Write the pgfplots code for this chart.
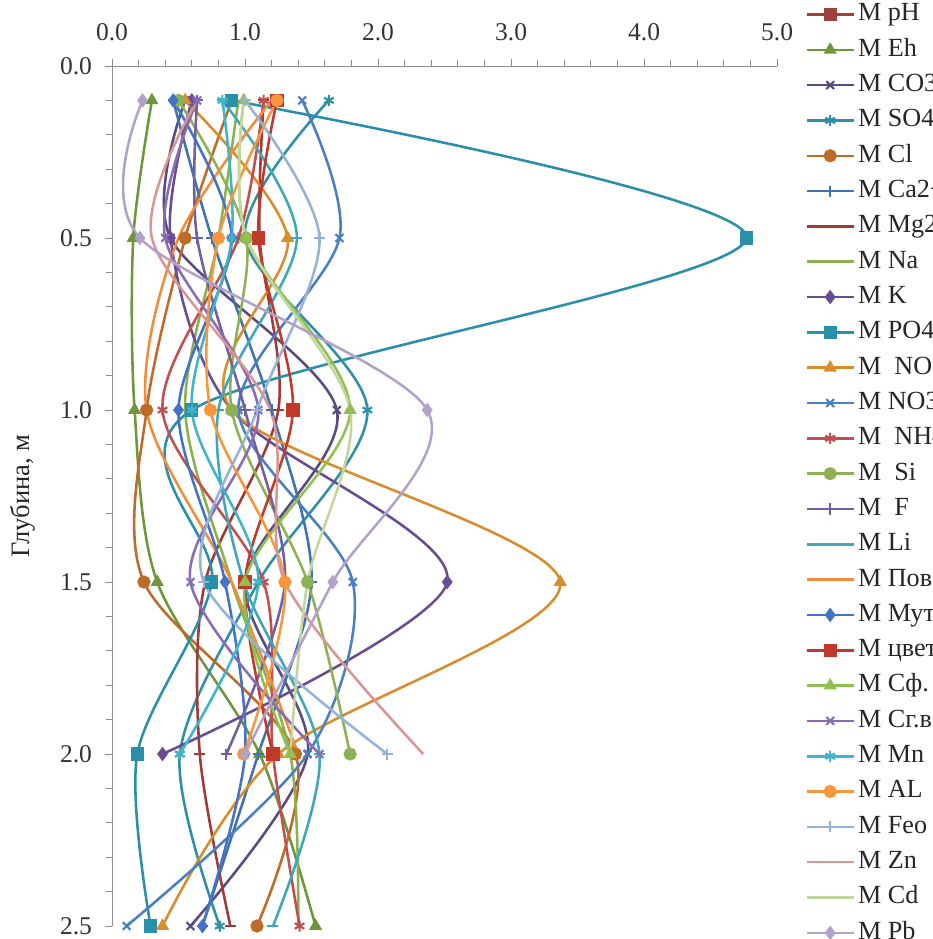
\documentclass[border=0pt]{standalone}
\usepackage{fontspec}
\setmainfont{Liberation Serif}
\usepackage{pgfplots}
\pgfplotsset{compat=1.18}
\definecolor{c0}{HTML}{A0403D}
\definecolor{cEh}{HTML}{6E963A}
\definecolor{cCO}{HTML}{5B4A7E}
\definecolor{cSO}{HTML}{2F8FA6}
\definecolor{cCl}{HTML}{BE6A28}
\definecolor{cCa}{HTML}{3F73B0}
\definecolor{cMg}{HTML}{9E3B36}
\definecolor{cNa}{HTML}{8CB04F}
\definecolor{cK}{HTML}{6A4C93}
\definecolor{cPO}{HTML}{2A8FA8}
\definecolor{cNOa}{HTML}{D98C2B}
\definecolor{cNOb}{HTML}{4A7FC1}
\definecolor{cNH}{HTML}{C0504D}
\definecolor{cSi}{HTML}{8DB255}
\definecolor{cF}{HTML}{7060A0}
\definecolor{cLi}{HTML}{3EA7B9}
\definecolor{cPov}{HTML}{F08C3C}
\definecolor{cMut}{HTML}{4472C4}
\definecolor{cCv}{HTML}{C0392B}
\definecolor{cSf}{HTML}{92C050}
\definecolor{cSg}{HTML}{8A6BB5}
\definecolor{cMn}{HTML}{40B4C8}
\definecolor{cAL}{HTML}{F7963C}
\definecolor{cFe}{HTML}{95B3D7}
\definecolor{cZn}{HTML}{D99694}
\definecolor{cCd}{HTML}{C3D69B}
\definecolor{cPb}{HTML}{B3A2C7}
\pgfplotsset{
  ser/.style={color=#1, line width=1.2pt, smooth, mark size=2.6pt, mark options={solid, fill=#1, line width=1pt}},
}
\begin{document}
\begin{tikzpicture}
\useasboundingbox (-52.64pt,31.02pt) rectangle (385.4pt,-410.3pt);
\clip (-52.64pt,31.02pt) rectangle (385.4pt,-410.3pt);
\begin{axis}[
  at={(0pt,0pt)}, anchor=north west,
  scale only axis, width=312.6pt, height=404.2pt,
  xmin=0, xmax=5, ymin=0, ymax=2.5, y dir=reverse,
  axis x line*=top, axis y line*=left,
  axis line style={draw=gray!90},
  every tick/.style={draw=gray!90, thin},
  xtick={0,1,2,3,4,5}, minor x tick num=4,
  ytick={0,0.5,1,1.5,2,2.5}, minor y tick num=4,
  tick align=outside, major tick length=3.5pt, minor tick length=3pt,
  xticklabel style={yshift=4.7pt, /pgf/number format/.cd, fixed, fixed zerofill, precision=1, assume math mode=true},
  yticklabel style={xshift=-2.4pt, /pgf/number format/.cd, fixed, fixed zerofill, precision=1, assume math mode=true},
  tick label style={font=\fontsize{12}{14}\selectfont, text=black!80},
  ylabel={Глубина, м},
  ylabel shift=5pt,
  ylabel style={font=\fontsize{12.5}{15}\selectfont, text=black!85},
  clip=false,
  legend cell align=left,
  legend image code/.code={\draw[mark repeat=2,mark phase=2,#1] plot coordinates {(0pt,0pt) (11pt,0pt) (22pt,0pt)};},
  legend style={at={(axis description cs:1.042,1.0740)}, anchor=north west, draw=none, fill=none,
     inner sep=0pt, row sep=5.6pt, font=\fontsize{12.3}{14}\selectfont, text=black!85,
     nodes={inner sep=0pt, text height=8.5pt, text depth=2.5pt},
     /tikz/every odd column/.style={column sep=1.5pt}},
]
\addlegendimage{ser=c0, mark=square*}
\addlegendentry{M pH}
\addplot[ser=cEh, mark=triangle*] coordinates {(0.30,0.1) (0.16,0.5) (0.17,1.0) (0.34,1.5) (1.11,2.0) (1.53,2.5)};
\addlegendentry{M Eh}
\addplot[ser=cCO, mark=x] coordinates {(0.55,0.1) (0.44,0.5) (1.69,1.0) (1.00,1.5) (1.47,2.0) (0.59,2.5)};
\addlegendentry{M CO3}
\addplot[ser=cSO, mark=asterisk] coordinates {(1.63,0.1) (1.00,0.5) (1.92,1.0) (1.10,1.5) (0.51,2.0) (0.81,2.5)};
\addlegendentry{ M SO4}
\addplot[ser=cCl, mark=*] coordinates {(0.90,0.1) (0.55,0.5) (0.26,1.0) (0.24,1.5) (1.38,2.0) (1.09,2.5)};
\addlegendentry{ M Cl}
\addplot[ser=cCa, mark=+] coordinates {(0.46,0.1) (0.75,0.5) (1.20,1.0) (1.50,1.5) (1.10,2.0) (0.68,2.5)};
\addlegendentry{ M Ca2+}
\addplot[ser=cMg, mark=-] coordinates {(1.14,0.1) (1.11,0.5) (1.25,1.0) (0.70,1.5) (0.66,2.0) (0.89,2.5)};
\addlegendentry{M Mg2+}
\addplot[ser=cNa, no markers] coordinates {(0.95,0.1) (0.80,0.5) (0.55,1.0) (0.90,1.5) (1.34,2.0) (1.40,2.5)};
\addlegendentry{M Na}
\addplot[ser=cK, mark=diamond*] coordinates {(0.60,0.1) (0.44,0.5) (0.90,1.0) (2.52,1.5) (0.38,2.0)};
\addlegendentry{M K}
\addplot[ser=cPO, mark=square*] coordinates {(0.90,0.1) (4.77,0.5) (0.60,1.0) (0.75,1.5) (0.19,2.0) (0.29,2.5)};
\addlegendentry{M PO4}
\addplot[ser=cNOa, mark=triangle*] coordinates {(0.55,0.1) (1.32,0.5) (0.90,1.0) (3.37,1.5) (1.25,2.0) (0.38,2.5)};
\addlegendentry{M \ NO2}
\addplot[ser=cNOb, mark=x] coordinates {(1.43,0.1) (1.71,0.5) (0.95,1.0) (1.81,1.5) (1.47,2.0) (0.11,2.5)};
\addlegendentry{ M NO3}
\addplot[ser=cNH, mark=asterisk] coordinates {(1.14,0.1) (0.95,0.5) (0.38,1.0) (1.14,1.5) (1.21,2.0) (1.41,2.5)};
\addlegendentry{M \ NH4}
\addplot[ser=cSi, mark=*] coordinates {(0.50,0.1) (1.01,0.5) (0.90,1.0) (1.47,1.5) (1.79,2.0)};
\addlegendentry{M \ Si}
\addplot[ser=cF, mark=+] coordinates {(0.64,0.1) (0.64,0.5) (1.00,1.0) (1.30,1.5) (0.86,2.0)};
\addlegendentry{M \ F}
\addplot[ser=cLi, mark=-] coordinates {(0.83,0.1) (1.39,0.5) (0.80,1.0) (0.99,1.5) (1.56,2.0) (1.21,2.5)};
\addlegendentry{M Li}
\addplot[ser=cPov, no markers] coordinates {(1.20,0.1) (0.50,0.5) (0.26,1.0) (0.90,1.5) (1.40,2.0)};
\addlegendentry{M Пов}
\addplot[ser=cMut, mark=diamond*] coordinates {(0.46,0.1) (0.90,0.5) (0.50,1.0) (0.85,1.5) (1.00,2.0) (0.68,2.5)};
\addlegendentry{M Мут}
\addplot[ser=cCv, mark=square*] coordinates {(1.24,0.1) (1.10,0.5) (1.36,1.0) (1.00,1.5) (1.21,2.0)};
\addlegendentry{M цвет}
\addplot[ser=cSf, mark=triangle*] coordinates {(0.99,0.1) (1.01,0.5) (1.79,1.0) (1.00,1.5) (1.34,2.0)};
\addlegendentry{M Сф.}
\addplot[ser=cSg, mark=x] coordinates {(0.64,0.1) (0.40,0.5) (1.10,1.0) (0.59,1.5) (1.56,2.0)};
\addlegendentry{M Сг.в}
\addplot[ser=cMn, mark=asterisk] coordinates {(0.83,0.1) (0.90,0.5) (0.60,1.0) (1.10,1.5) (0.51,2.0)};
\addlegendentry{M Mn}
\addplot[ser=cAL, mark=*] coordinates {(1.24,0.1) (0.80,0.5) (0.74,1.0) (1.30,1.5) (0.99,2.0)};
\addlegendentry{M AL}
\addplot[ser=cFe, mark=+] coordinates {(1.00,0.1) (1.56,0.5) (1.09,1.0) (0.69,1.5) (2.07,2.0)};
\addlegendentry{ M Feo}
\addplot[ser=cZn, no markers] coordinates {(0.64,0.1) (0.30,0.5) (1.19,1.0) (1.30,1.5) (2.34,2.0)};
\addlegendentry{ M Zn}
\addplot[ser=cCd, no markers] coordinates {(0.99,0.1) (1.01,0.5) (1.79,1.0) (1.47,1.5) (1.34,2.0)};
\addlegendentry{ M Cd}
\addplot[ser=cPb, mark=diamond*] coordinates {(0.23,0.1) (0.21,0.5) (2.37,1.0) (1.66,1.5) (1.00,2.0)};
\addlegendentry{M Pb}
\end{axis}
\end{tikzpicture}
\end{document}
